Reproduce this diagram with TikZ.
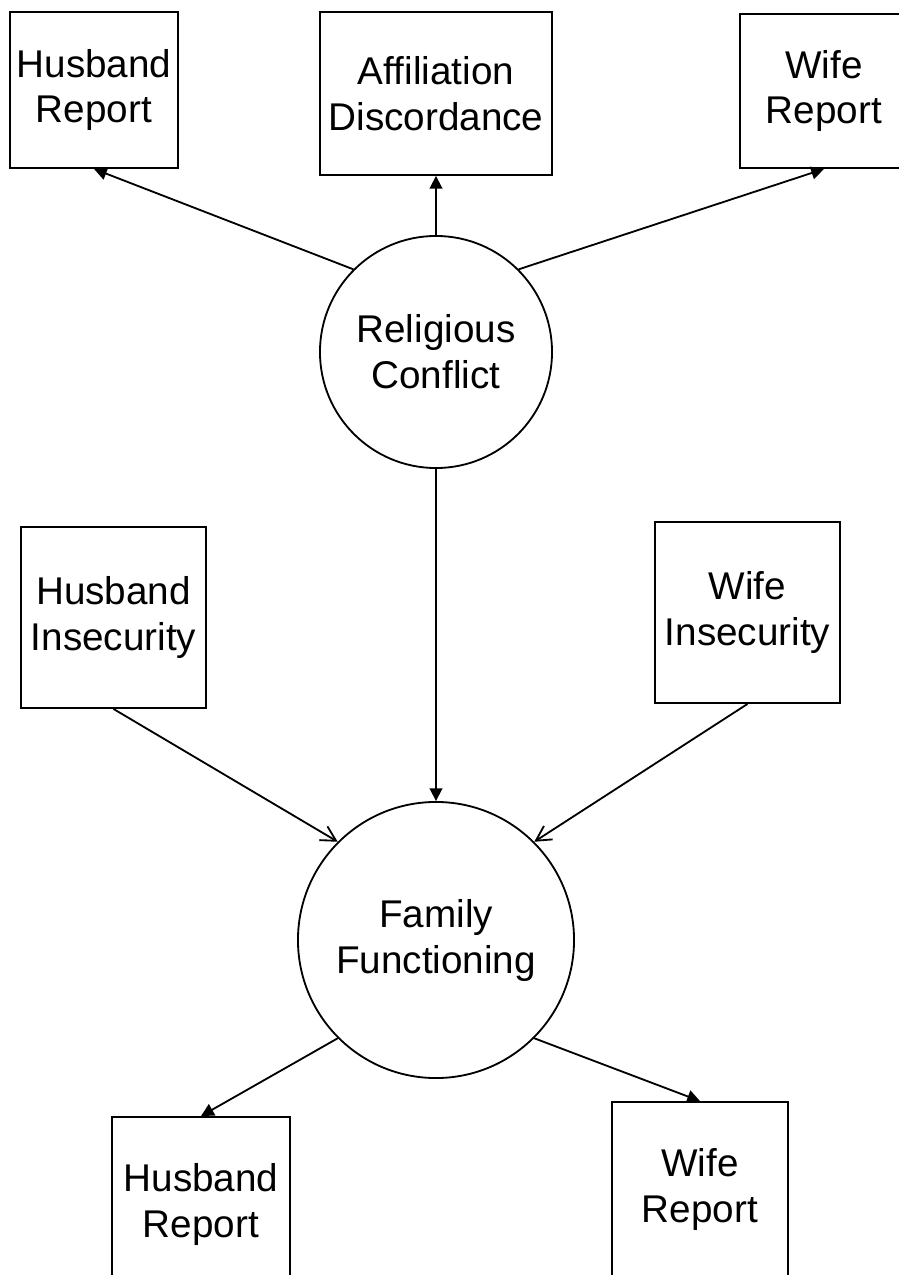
\documentclass[tikz,border=0pt]{standalone}
\usepackage{fontspec}
\setmainfont{Liberation Sans}
\usetikzlibrary{arrows.meta}

\tikzset{
  var/.style={draw,line width=1.3pt,align=center,inner sep=0pt,
    font=\fontsize{27.5}{32.7}\selectfont},
  latent/.style={var,circle},
  fa/.style={line width=1.3pt,-{Triangle[length=0.32cm,width=0.32cm]}},
  oa/.style={line width=1.3pt,-{Straight Barb[length=0.37cm,width=0.4cm,line width=1.3pt]}}
}

\begin{document}
\begin{tikzpicture}[x=0.025cm,y=-0.025cm]
                \useasboundingbox (0,0) rectangle (899,1275);
                \node[var,minimum width=4.2cm,minimum height=3.9cm] (hrepT) at (94,90) {Husband\\Report};
                \node[var,minimum width=5.8cm,minimum height=4.075cm] (aff) at (436,93.5) {Affiliation\\Discordance};
                \node[var,minimum width=4.2cm,minimum height=3.85cm] (wrepT) at (824,91) {Wife\\Report};
                \node[latent,minimum size=5.8cm] (rc) at (436,352) {Religious\\Conflict};
                \node[var,minimum width=4.625cm,minimum height=4.525cm] (hins) at (113.5,617.5) {Husband\\Insecurity};
                \node[var,minimum width=4.625cm,minimum height=4.525cm] (wins) at (747.5,612.5) {Wife\\Insecurity};
                \node[latent,minimum size=6.9cm] (ff) at (436,940) {Family\\Functioning};
                \node[var,minimum width=4.45cm,minimum height=4.375cm] (hrepB) at (201,1204.5) {Husband\\Report};
                \node[var,minimum width=4.4cm,minimum height=4.375cm] (wrepB) at (700,1189.5) {Wife\\Report};
                \draw[fa] (rc.135) -- (hrepT.south);
                \draw[fa] (rc.north) -- (aff.south);
                \draw[fa] (rc.45) -- (wrepT.south);
                \draw[fa] (rc.south) -- (ff.north);
                \draw[oa] (hins.south) -- (ff.135);
                \draw[oa] (wins.south) -- (ff.45);
                \draw[fa] (ff.225) -- (hrepB.north);
                \draw[fa] (ff.-45) -- (wrepB.north);
\end{tikzpicture}
\end{document}
